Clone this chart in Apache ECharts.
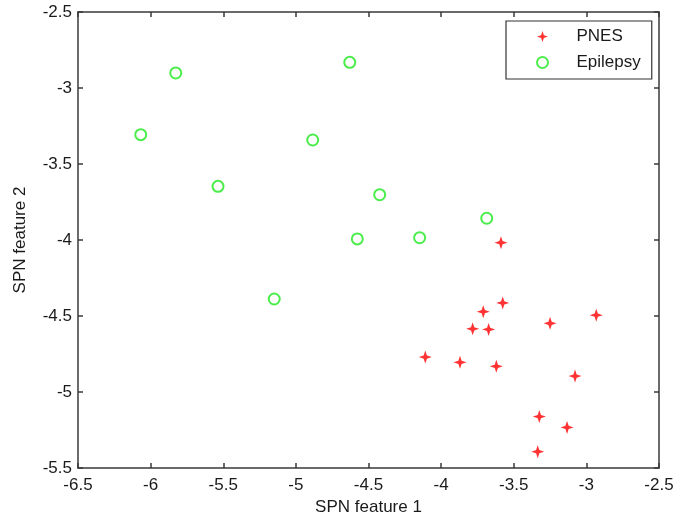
<!DOCTYPE html>
<html>
<head>
<meta charset="utf-8">
<script src="https://cdn.jsdelivr.net/npm/echarts@6/dist/echarts.min.js"></script>
<style>
  html, body { margin: 0; padding: 0; background: #fff; }
  #main { width: 684px; height: 516px; }
</style>
</head>
<body>
<div id="main"></div>
<script>
// PNES 点 (SPN feature 1, SPN feature 2)
const pnesX = [-3.588, -3.576, -3.710, -3.783, -3.673, -3.250, -2.932, -4.109, -3.870, -3.620, -3.078, -3.324, -3.133, -3.335];
const pnesY = [-4.018, -4.414, -4.472, -4.584, -4.588, -4.548, -4.495, -4.770, -4.805, -4.831, -4.895, -5.162, -5.233, -5.393];
// Epilepsy 点
const epiX = [-6.068, -5.827, -5.536, -5.149, -4.884, -4.629, -4.423, -4.577, -4.148, -3.686];
const epiY = [-3.307, -2.901, -3.647, -4.388, -3.342, -2.831, -3.702, -3.993, -3.985, -3.857];
const seriesNames = ['PNES', 'Epilepsy'];

const starPath = 'path://M0,-6 L1.5,-1.5 L6,0 L1.5,1.5 L0,6 L-1.5,1.5 L-6,0 L-1.5,-1.5 Z';
const font = 'Liberation Sans, Arial, sans-serif';
const frameColor = '#3a3a3a';
const textColor = '#1a1a1a';

function pairs(xs, ys) {
  return xs.map((x, i) => [x, ys[i]]);
}

// 坐标轴公共样式
function boxAxis(extra) {
  return Object.assign({
    type: 'value',
    interval: 0.5,
    axisLine: { show: true, onZero: false, lineStyle: { color: frameColor, width: 1.5 } },
    axisTick: { show: true, inside: true, length: 5, lineStyle: { color: frameColor, width: 1.5 } },
    splitLine: { show: false },
    axisLabel: { show: false }
  }, extra);
}

const chart = echarts.init(document.getElementById('main'), null, { renderer: 'canvas' });
chart.setOption({
  animation: false,
  backgroundColor: '#fff',
  textStyle: { fontFamily: font },
  grid: { left: 78, right: 25, top: 12, bottom: 48, containLabel: false, outerBoundsMode: 'none' },
  legend: {
    data: seriesNames,
    orient: 'vertical',
    left: 506,
    top: 21,
    padding: [7, 11, 8, 30],
    itemWidth: 58,
    itemHeight: 11,
    itemGap: 9,
    borderColor: '#333',
    borderWidth: 1.2,
    backgroundColor: '#fff',
    textStyle: { fontFamily: font, fontSize: 17, color: textColor }
  },
  xAxis: [
    boxAxis({
      min: -6.5, max: -2.5, position: 'bottom',
      name: 'SPN feature 1', nameLocation: 'middle', nameGap: 24,
      nameTextStyle: { fontFamily: font, fontSize: 17, color: textColor },
      axisLabel: { show: true, margin: 9, fontFamily: font, fontSize: 17, color: textColor }
    }),
    boxAxis({ min: -6.5, max: -2.5, position: 'top' })
  ],
  yAxis: [
    boxAxis({
      min: -5.5, max: -2.5, position: 'left',
      name: 'SPN feature 2', nameLocation: 'middle', nameGap: 49,
      nameTextStyle: { fontFamily: font, fontSize: 17, color: textColor },
      axisLabel: { show: true, margin: 6, fontFamily: font, fontSize: 17, color: textColor }
    }),
    boxAxis({ min: -5.5, max: -2.5, position: 'right' })
  ],
  series: [
    {
      name: 'PNES',
      type: 'scatter',
      symbol: starPath,
      symbolSize: 13,
      itemStyle: { color: '#ff0000' },
      data: pairs(pnesX, pnesY)
    },
    {
      name: 'Epilepsy',
      type: 'scatter',
      symbol: 'emptyCircle',
      symbolSize: 11,
      itemStyle: { color: '#1ee81e', borderWidth: 2 },
      data: pairs(epiX, epiY)
    }
  ]
});
</script>
</body>
</html>
